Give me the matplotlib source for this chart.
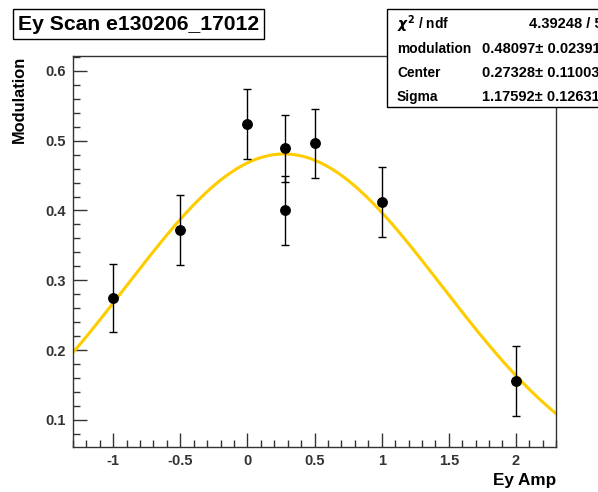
#!/usr/bin/env python3

import numpy as np
import matplotlib.pyplot as plt
from matplotlib.ticker import MultipleLocator

plt.rcParams['font.family'] = ['Liberation Sans', 'DejaVu Sans']
plt.rcParams['font.weight'] = 'bold'

# Measured points
ey_amp = [-1.0, -0.5, 0.0, 0.28, 0.28, 0.5, 1.0, 2.0]
modulation = [0.275, 0.372, 0.524, 0.489, 0.400, 0.496, 0.412, 0.156]
mod_err = [0.049, 0.050, 0.050, 0.048, 0.050, 0.050, 0.050, 0.050]

# Gaussian fit parameters
fit_amp = 0.48097
fit_center = 0.27328
fit_sigma = 1.17592

stat_labels = ["$\\chi^2$ / ndf", "modulation", "Center", "Sigma"]
stat_values = ["4.39248 / 5", "0.48097\u00b1 0.02391", "0.27328\u00b1 0.11003", "1.17592\u00b1 0.12631"]

fig = plt.figure(figsize=(5.98, 4.92), dpi=100)
ax = fig.add_axes([0.122, 0.0915, 0.808, 0.795])

x_fit = np.linspace(-1.3, 2.3, 400)
y_fit = fit_amp * np.exp(-(x_fit - fit_center)**2 / (2 * fit_sigma**2))
ax.plot(x_fit, y_fit, color='#ffcc00', lw=2.2, zorder=2)

ax.errorbar(ey_amp, modulation, yerr=mod_err, fmt='o', color='black',
            ms=6.8, elinewidth=1.0, capsize=3, capthick=1.0, zorder=3)

ax.set_xlim(-1.3, 2.3)
ax.set_ylim(0.0613, 0.6215)
ax.xaxis.set_minor_locator(MultipleLocator(0.1))
ax.yaxis.set_minor_locator(MultipleLocator(0.02))
ax.set_xticks([-1, -0.5, 0, 0.5, 1, 1.5, 2])
ax.set_xticklabels(['-1', '-0.5', '0', '0.5', '1', '1.5', '2'])
ax.set_yticks([0.1, 0.2, 0.3, 0.4, 0.5, 0.6])
ax.set_yticklabels(['0.1', '0.2', '0.3', '0.4', '0.5', '0.6'])
ax.tick_params(which='both', direction='in', top=False, right=False,
               colors='#333333', labelsize=10.5, width=1)
ax.tick_params(which='major', length=10, pad=5)
ax.tick_params(which='minor', length=5)
for s in ax.spines.values():
    s.set_color('#333333')
    s.set_linewidth(1)

fig.text(0.930, 0.008, "Ey Amp", ha='right', va='bottom', fontsize=12.3, fontweight='bold')
fig.text(0.033, 0.886, "Modulation", ha='center', va='top', rotation=90, fontsize=11.8, fontweight='bold')

fig.text(0.030, 0.951, "Ey Scan e130206_17012", ha='left', va='center', fontsize=15.2,
         fontweight='bold',
         bbox=dict(boxstyle='square,pad=0.25', fc='white', ec='black', lw=1))

# stats box
box = plt.Rectangle((387 / 598, 1 - 107 / 492), 0.4, 98 / 492, transform=fig.transFigure,
                    fc='white', ec='black', lw=1, zorder=5)
fig.patches.append(box)
rows_y = [24, 49, 73, 97]
for lab, val, yy in zip(stat_labels, stat_values, rows_y):
    fig.text(397 / 598, 1 - yy / 492, lab, ha='left', va='center', fontsize=9.9,
             fontweight='bold', zorder=6)
    x0 = 529 if val.startswith("4.39") else 482
    fig.text(x0 / 598, 1 - yy / 492, val, ha='left', va='center', fontsize=10.5,
             fontweight='bold', zorder=6)

fig.savefig("out.png", dpi=100)
